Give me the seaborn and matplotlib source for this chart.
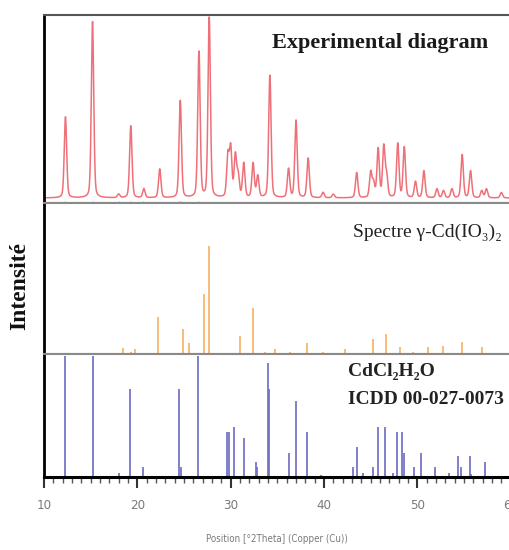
import numpy as np
import pandas as pd
import matplotlib.pyplot as plt
import seaborn as sns
from matplotlib.ticker import MultipleLocator

sns.set_style('ticks')
plt.rcParams['font.family'] = ['Liberation Serif', 'DejaVu Serif']

# experimental pattern : peak positions (°2θ) and relative heights
exp_pos = [12.3, 15.2, 18.0, 19.3, 20.7, 22.4, 24.6, 26.6, 27.7, 29.7, 30.0, 30.5,
           30.8, 31.4, 32.4, 32.9, 34.2, 36.2, 37.0, 38.3, 39.9, 41.0, 43.5, 45.0,
           45.3, 45.8, 46.4, 46.7, 47.9, 48.6, 49.8, 50.7, 52.1, 52.8, 53.7, 54.8,
           55.7, 56.9, 57.4, 59.0]
exp_int = [45, 98, 2, 40, 5, 16, 54, 81, 100, 23, 27, 23,
           12, 19, 19, 12, 68, 16, 43, 22, 3, 2, 14, 14,
           8, 27, 28, 12, 30, 28, 9, 15, 5, 4, 5, 24,
           15, 4, 5, 3]

# spectre gamma-Cd(IO3)2 (sticks)
cdio_pos = [18.5, 19.3, 19.8, 22.25, 24.9, 25.5, 27.1, 27.7, 31.0, 32.4, 33.7, 34.8,
            36.4, 38.2, 39.9, 42.3, 45.2, 46.6, 48.1, 49.5, 51.1, 51.9, 52.7, 54.8, 56.9]
cdio_int = [6, 1.5, 4.5, 34, 23, 10, 56, 100, 17, 43, 2, 4.5,
            2, 10, 2, 4.5, 14, 19, 6.5, 2, 6.5, 1, 7.5, 11, 6.5]

# CdCl2H2O  ICDD 00-027-0073 (sticks)
cdcl_pos = [12.25, 15.2, 18.0, 19.2, 20.6, 24.5, 24.65, 26.5, 29.6, 29.8, 30.4, 31.4,
            32.7, 32.8, 34.0, 34.15, 36.2, 37.0, 38.2, 39.7, 43.1, 43.5, 44.2, 45.3,
            45.75, 46.5, 47.4, 47.8, 48.4, 48.6, 49.6, 50.4, 51.9, 53.4, 54.4, 54.7,
            55.6, 55.8, 57.3]
cdcl_int = [100, 100, 3, 72.5, 8, 72.5, 8, 100, 37.5, 37.5, 41, 32.5,
            12.5, 8, 94, 72.5, 20, 62.5, 37.5, 2, 8, 25, 3, 8,
            41, 41, 3, 37.5, 37.5, 20, 8, 20, 8, 3, 17, 8,
            17, 2.5, 12.5]

# profile of the measured diagram built from the peak list
tth = np.linspace(10, 60, 5001)
profile = np.full_like(tth, 0.8)
for p, h in zip(exp_pos, exp_int):
    profile += h * (0.7 * np.exp(-0.5 * ((tth - p) / 0.13) ** 2)
                    + 0.3 / (1 + ((tth - p) / 0.15) ** 2))
exp_df = pd.DataFrame({'tth': tth, 'I': profile})

W, H = 509, 550
fig = plt.figure(figsize=(W / 100, H / 100), dpi=100)
gs = fig.add_gridspec(3, 1, height_ratios=[188, 151, 123], hspace=0,
                      left=44 / W, right=510.7 / W, top=1 - 15 / H, bottom=1 - 477 / H)
ax1 = fig.add_subplot(gs[0])
ax2 = fig.add_subplot(gs[1], sharex=ax1)
ax3 = fig.add_subplot(gs[2], sharex=ax1)

# top : experimental
sns.lineplot(data=exp_df, x='tth', y='I', ax=ax1, color='#e8343f', lw=1.1, alpha=0.7)
ax1.plot(cdcl_pos[:8], [-1.6] * 8, ls='none', marker='|', ms=2, color='#f5a54a')
ax1.set_ylim(-2, 102.5)

# middle : gamma-Cd(IO3)2
ax2.vlines(cdio_pos, 0, cdio_int, color='#f8b56f', lw=1.3)
ax2.set_ylim(0, 140)

# bottom : CdCl2H2O
ax3.vlines(cdcl_pos, 0, cdcl_int, color='#7272c4', lw=1.4, alpha=0.9)
ax3.set_ylim(0, 101.7)

for ax in (ax1, ax2, ax3):
    ax.set_xlim(10, 60)
    ax.set_yticks([])
    ax.set_ylabel('')
    ax.set_xlabel('')
    for s in ('top', 'right', 'bottom'):
        ax.spines[s].set_visible(True)
        ax.spines[s].set_color('#8a8a8a')
        ax.spines[s].set_linewidth(1.5)
    ax.spines['left'].set_color('black')
    ax.spines['left'].set_linewidth(2)
    ax.tick_params(axis='x', bottom=False, labelbottom=False)

sans = ['DejaVu Sans', 'Liberation Sans']
ax1.spines['top'].set_color('#555555')
ax3.spines['bottom'].set_color('black')
ax3.spines['bottom'].set_linewidth(2.2)
ax3.xaxis.set_major_locator(MultipleLocator(10))
ax3.xaxis.set_minor_locator(MultipleLocator(1))
ax3.tick_params(axis='x', which='major', bottom=True, labelbottom=True, direction='out',
                length=8, width=1.5, color='#333333', labelsize=9.5, labelcolor='#7a7a7a', pad=8)
ax3.tick_params(axis='x', which='minor', bottom=True, direction='out',
                length=4, width=1, color='#555555')
for lab in ax3.get_xticklabels():
    lab.set_family(sans)
    lab.set_stretch('condensed')
ax3.set_xlabel('Position [°2Theta] (Copper (Cu))', fontsize=7, color='#7a7a7a',
               family=sans, fontstretch='condensed', labelpad=16)

fig.text(488 / W, 1 - 43 / H, 'Experimental diagram', ha='right', va='center',
         fontsize=16, fontweight='bold', color='#1a1a1a')
fig.text(502 / W, 1 - 232 / H, 'Spectre γ-Cd(IO₃)₂', ha='right', va='center',
         fontsize=14, color='#222222')
fig.text(348 / W, 1 - 372 / H, 'CdCl₂H₂O', ha='left', va='center',
         fontsize=14, fontweight='bold', color='#222222')
fig.text(348 / W, 1 - 400 / H, 'ICDD 00-027-0073', ha='left', va='center',
         fontsize=14, fontweight='bold', color='#222222')
fig.text(20 / W, 1 - 286 / H, 'Intensité', rotation=90, ha='center', va='center',
         fontsize=17, fontweight='bold', color='#111111')

fig.savefig('out.png', dpi=100)
